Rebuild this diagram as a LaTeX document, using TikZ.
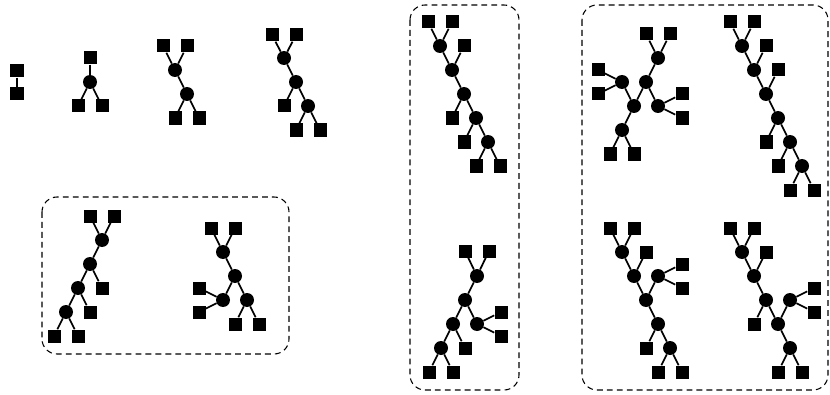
\documentclass[tikz,border=0pt]{standalone}
\usepackage{tikz}
\tikzset{leaf/.style={rectangle, fill=black, inner sep=0pt, minimum size=0.39cm}, % leaves are black squares
hub/.style={circle, fill=black, inner sep=0pt, minimum size=0.42cm}, % inner vertices are black dots
grp/.style={draw, line width=0.9pt, dash pattern=on 5pt off 3.5pt, rounded corners=0.45cm}, % dashed boxes round groups of trees
every edge/.style={draw, line width=1.5pt},
}

\begin{document}
\begin{tikzpicture}[x=0.03cm, y=-0.03cm]
  \useasboundingbox (0,0) rectangle (830,395);

  % first row
  \node[leaf] (a1) at (17,71) {};
  \node[leaf] (a2) at (17,94) {};
  \draw (a1) edge (a2);

  \node[leaf] (b1) at (90,58) {};
  \node[hub] (b2) at (90,82) {};
  \node[leaf] (b3) at (78,106) {};
  \node[leaf] (b4) at (102,106) {};
  \draw (b1) edge (b2)
  		(b2) edge (b3)
  		(b2) edge (b4);

  \node[leaf] (c1) at (163,46) {};
  \node[leaf] (c2) at (187,46) {};
  \node[hub] (c3) at (175,70) {};
  \node[hub] (c4) at (187,94) {};
  \node[leaf] (c5) at (175,118) {};
  \node[leaf] (c6) at (199,118) {};
  \draw (c1) edge (c3)
  		(c2) edge (c3)
  		(c3) edge (c4)
  		(c4) edge (c5)
  		(c4) edge (c6);

  \node[leaf] (d1) at (272,35) {};
  \node[leaf] (d2) at (296,35) {};
  \node[hub] (d3) at (284,58) {};
  \node[hub] (d4) at (296,82) {};
  \node[leaf] (d5) at (284,106) {};
  \node[hub] (d6) at (308,106) {};
  \node[leaf] (d7) at (296,130) {};
  \node[leaf] (d8) at (320,130) {};
  \draw (d1) edge (d3)
  		(d2) edge (d3)
  		(d3) edge (d4)
  		(d4) edge (d5)
  		(d4) edge (d6)
  		(d6) edge (d7)
  		(d6) edge (d8);

  % box with two trees of six leaves
  \draw[grp] (42,197) rectangle (289,354);

  \node[leaf] (e1) at (90,216) {};
  \node[leaf] (e2) at (114,216) {};
  \node[hub] (e3) at (102,240) {};
  \node[hub] (e4) at (90,264) {};
  \node[leaf] (e5) at (102,288) {};
  \node[hub] (e6) at (78,288) {};
  \node[leaf] (e7) at (90,312) {};
  \node[hub] (e8) at (66,312) {};
  \node[leaf] (e9) at (54,336) {};
  \node[leaf] (e10) at (78,336) {};
  \draw (e1) edge (e3)
  		(e2) edge (e3)
  		(e3) edge (e4)
  		(e4) edge (e5)
  		(e4) edge (e6)
  		(e6) edge (e7)
  		(e6) edge (e8)
  		(e8) edge (e9)
  		(e8) edge (e10);

  \node[leaf] (f1) at (211,228) {};
  \node[leaf] (f2) at (235,228) {};
  \node[hub] (f3) at (223,252) {};
  \node[hub] (f4) at (235,276) {};
  \node[hub] (f5) at (223,300) {};
  \node[hub] (f6) at (247,300) {};
  \node[leaf] (f7) at (199,288) {};
  \node[leaf] (f8) at (199,312) {};
  \node[leaf] (f9) at (235,324) {};
  \node[leaf] (f10) at (259,324) {};
  \draw (f1) edge (f3)
  		(f2) edge (f3)
  		(f3) edge (f4)
  		(f4) edge (f5)
  		(f4) edge (f6)
  		(f5) edge (f7)
  		(f5) edge (f8)
  		(f6) edge (f9)
  		(f6) edge (f10);

  % box with two trees of seven leaves
  \draw[grp] (410,5) rectangle (519,390);

  \node[leaf] (g1) at (428,22) {};
  \node[leaf] (g2) at (452,22) {};
  \node[hub] (g3) at (440,46) {};
  \node[leaf] (g4) at (464,46) {};
  \node[hub] (g5) at (452,70) {};
  \node[hub] (g6) at (464,94) {};
  \node[leaf] (g7) at (452,118) {};
  \node[hub] (g8) at (476,118) {};
  \node[leaf] (g9) at (464,142) {};
  \node[hub] (g10) at (488,142) {};
  \node[leaf] (g11) at (476,166) {};
  \node[leaf] (g12) at (500,166) {};
  \draw (g1) edge (g3)
  		(g2) edge (g3)
  		(g3) edge (g5)
  		(g4) edge (g5)
  		(g5) edge (g6)
  		(g6) edge (g7)
  		(g6) edge (g8)
  		(g8) edge (g9)
  		(g8) edge (g10)
  		(g10) edge (g11)
  		(g10) edge (g12);

  \node[leaf] (h1) at (465,251) {};
  \node[leaf] (h2) at (489,251) {};
  \node[hub] (h3) at (477,276) {};
  \node[hub] (h4) at (465,300) {};
  \node[hub] (h5) at (477,324) {};
  \node[leaf] (h6) at (501,312) {};
  \node[leaf] (h7) at (501,336) {};
  \node[hub] (h8) at (453,324) {};
  \node[leaf] (h9) at (465,348) {};
  \node[hub] (h10) at (441,348) {};
  \node[leaf] (h11) at (429,372) {};
  \node[leaf] (h12) at (453,372) {};
  \draw (h1) edge (h3)
  		(h2) edge (h3)
  		(h3) edge (h4)
  		(h4) edge (h5)
  		(h4) edge (h8)
  		(h5) edge (h6)
  		(h5) edge (h7)
  		(h8) edge (h9)
  		(h8) edge (h10)
  		(h10) edge (h11)
  		(h10) edge (h12);

  % box with four trees of eight leaves
  \draw[grp] (582,5) rectangle (828,390);

  \node[leaf] (i1) at (646,34) {};
  \node[leaf] (i2) at (670,34) {};
  \node[hub] (i3) at (658,58) {};
  \node[hub] (i4) at (646,82) {};
  \node[hub] (i5) at (634,106) {};
  \node[hub] (i6) at (658,106) {};
  \node[leaf] (i7) at (682,94) {};
  \node[leaf] (i8) at (682,118) {};
  \node[hub] (i9) at (622,82) {};
  \node[leaf] (i10) at (598,70) {};
  \node[leaf] (i11) at (598,94) {};
  \node[hub] (i12) at (622,130) {};
  \node[leaf] (i13) at (610,154) {};
  \node[leaf] (i14) at (634,154) {};
  \draw (i1) edge (i3)
  		(i2) edge (i3)
  		(i3) edge (i4)
  		(i4) edge (i5)
  		(i4) edge (i6)
  		(i6) edge (i7)
  		(i6) edge (i8)
  		(i5) edge (i9)
  		(i9) edge (i10)
  		(i9) edge (i11)
  		(i5) edge (i12)
  		(i12) edge (i13)
  		(i12) edge (i14);

  \node[leaf] (j1) at (730,22) {};
  \node[leaf] (j2) at (754,22) {};
  \node[hub] (j3) at (742,46) {};
  \node[leaf] (j4) at (766,46) {};
  \node[hub] (j5) at (754,70) {};
  \node[leaf] (j6) at (778,70) {};
  \node[hub] (j7) at (766,94) {};
  \node[hub] (j8) at (778,118) {};
  \node[leaf] (j9) at (766,142) {};
  \node[hub] (j10) at (790,142) {};
  \node[leaf] (j11) at (778,166) {};
  \node[hub] (j12) at (802,166) {};
  \node[leaf] (j13) at (790,190) {};
  \node[leaf] (j14) at (814,190) {};
  \draw (j1) edge (j3)
  		(j2) edge (j3)
  		(j3) edge (j5)
  		(j4) edge (j5)
  		(j5) edge (j7)
  		(j6) edge (j7)
  		(j7) edge (j8)
  		(j8) edge (j9)
  		(j8) edge (j10)
  		(j10) edge (j11)
  		(j10) edge (j12)
  		(j12) edge (j13)
  		(j12) edge (j14);

  \node[leaf] (k1) at (610,228) {};
  \node[leaf] (k2) at (634,228) {};
  \node[hub] (k3) at (622,252) {};
  \node[leaf] (k4) at (646,252) {};
  \node[hub] (k5) at (634,276) {};
  \node[hub] (k6) at (646,300) {};
  \node[hub] (k7) at (658,276) {};
  \node[leaf] (k8) at (682,264) {};
  \node[leaf] (k9) at (682,288) {};
  \node[hub] (k10) at (658,324) {};
  \node[leaf] (k11) at (646,348) {};
  \node[hub] (k12) at (670,348) {};
  \node[leaf] (k13) at (658,372) {};
  \node[leaf] (k14) at (682,372) {};
  \draw (k1) edge (k3)
  		(k2) edge (k3)
  		(k3) edge (k5)
  		(k4) edge (k5)
  		(k5) edge (k6)
  		(k7) edge (k6)
  		(k7) edge (k8)
  		(k7) edge (k9)
  		(k6) edge (k10)
  		(k10) edge (k11)
  		(k10) edge (k12)
  		(k12) edge (k13)
  		(k12) edge (k14);

  \node[leaf] (l1) at (730,228) {};
  \node[leaf] (l2) at (754,228) {};
  \node[hub] (l3) at (742,252) {};
  \node[leaf] (l4) at (766,252) {};
  \node[hub] (l5) at (754,276) {};
  \node[hub] (l6) at (766,300) {};
  \node[leaf] (l7) at (754,324) {};
  \node[hub] (l8) at (778,324) {};
  \node[hub] (l9) at (790,300) {};
  \node[leaf] (l10) at (814,288) {};
  \node[leaf] (l11) at (814,312) {};
  \node[hub] (l12) at (790,348) {};
  \node[leaf] (l13) at (778,372) {};
  \node[leaf] (l14) at (802,372) {};
  \draw (l1) edge (l3)
  		(l2) edge (l3)
  		(l3) edge (l5)
  		(l4) edge (l5)
  		(l5) edge (l6)
  		(l6) edge (l7)
  		(l6) edge (l8)
  		(l9) edge (l8)
  		(l9) edge (l10)
  		(l9) edge (l11)
  		(l8) edge (l12)
  		(l12) edge (l13)
  		(l12) edge (l14);

\end{tikzpicture}
\end{document}
